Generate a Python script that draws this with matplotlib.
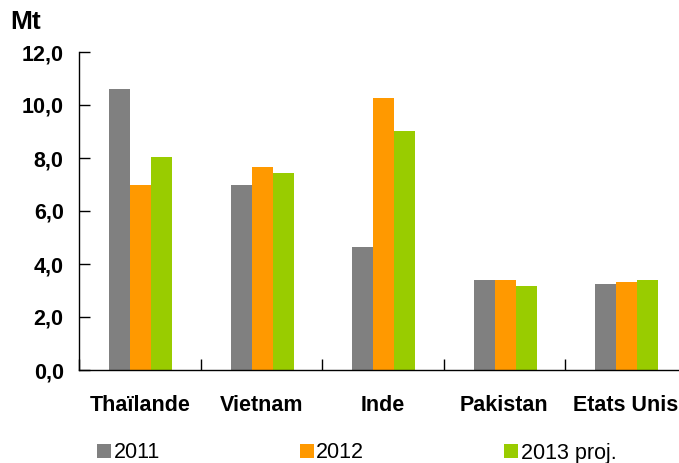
import matplotlib.pyplot as plt
import numpy as np

plt.rcParams['font.family'] = ['Liberation Sans', 'DejaVu Sans']

# data (Mt)
countries = ['Thaïlande', 'Vietnam', 'Inde', 'Pakistan', 'Etats Unis']
series_names = ['2011', '2012', '2013 proj.']
v2011 = [10.6, 7.0, 4.65, 3.4, 3.25]
v2012 = [7.0, 7.67, 10.28, 3.4, 3.32]
v2013 = [8.05, 7.44, 9.03, 3.17, 3.4]
colors = ['#808080', '#FF9900', '#99CC00']
yticks = [0, 2, 4, 6, 8, 10, 12]

W, H = 679, 463
fig = plt.figure(figsize=(W / 100, H / 100), dpi=100)
ax = fig.add_axes([79 / W, 93 / H, 607.5 / W, 318 / H])

x = np.arange(len(countries))
bw = 0.173
for i, (vals, name, col) in enumerate(zip([v2011, v2012, v2013], series_names, colors)):
    ax.bar(x + (i - 1) * bw + 0.01, vals, width=bw, color=col, label=name, zorder=2)

ax.set_xlim(-0.5, len(countries) - 0.5)
ax.set_ylim(0, 12)
ax.set_yticks(yticks)
ax.set_yticklabels([f'{v:.1f}'.replace('.', ',') for v in yticks])
ax.set_xticks(x)
ax.set_xticklabels(countries)
ax.set_xticks(np.arange(-0.5, len(countries)), minor=True)

ax.tick_params(axis='y', direction='in', length=8, width=1, pad=11,
               labelsize=15.5)
ax.tick_params(axis='x', which='major', length=0, pad=18, labelsize=15.5)
ax.tick_params(axis='x', which='minor', direction='in', length=8, width=1)
for lbl in ax.get_xticklabels() + ax.get_yticklabels():
    lbl.set_fontweight('bold')

for s in ['top', 'right']:
    ax.spines[s].set_visible(False)
for s in ['left', 'bottom']:
    ax.spines[s].set_linewidth(1)
    ax.spines[s].set_color('black')

fig.text(10 / W, 1 - 22 / H, 'Mt', fontsize=19, fontweight='bold', va='center')

fig.legend(loc='center left', bbox_to_anchor=(97 / W, 10 / H), ncol=3,
           frameon=False, fontsize=15.5, borderpad=0, borderaxespad=0,
           handlelength=0.65, handleheight=0.65, handletextpad=0.12,
           columnspacing=6.5)

fig.savefig('out.png', dpi=100)
